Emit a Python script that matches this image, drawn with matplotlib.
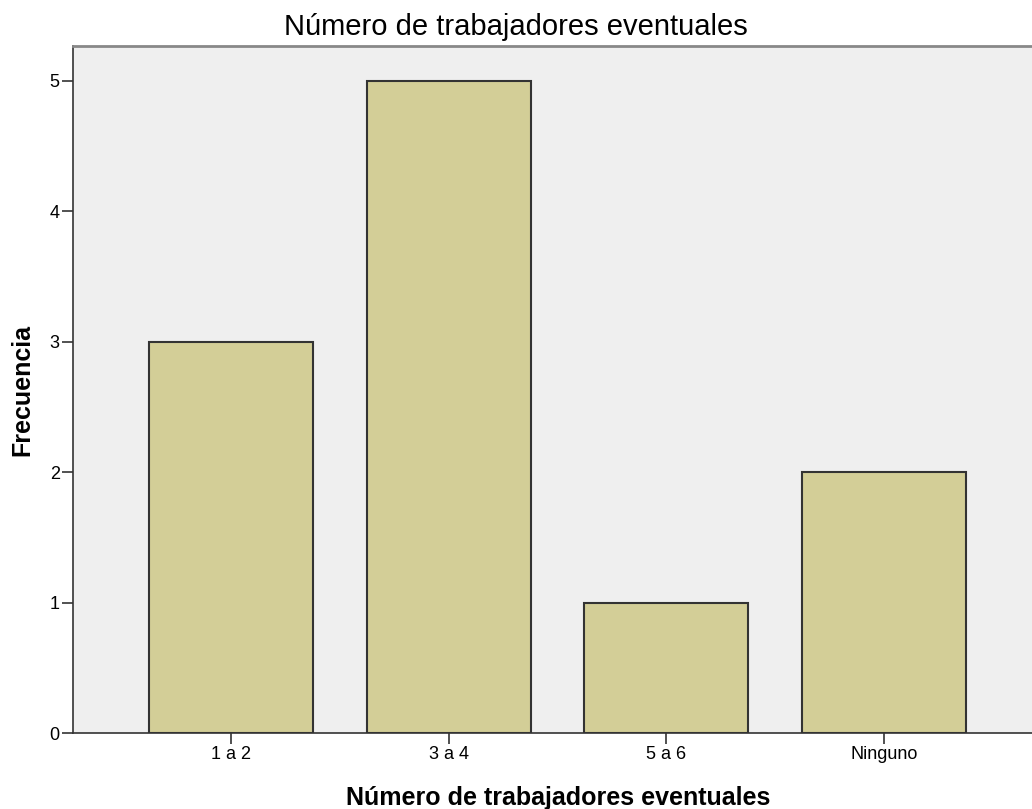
import numpy as np
import matplotlib
matplotlib.use("Agg")
import matplotlib.pyplot as plt

plt.rcParams['font.family'] = ['Liberation Sans', 'DejaVu Sans']

# datos
categorias = ["1 a 2", "3 a 4", "5 a 6", "Ninguno"]
frecuencias = [3, 5, 1, 2]
y_ticks = [0, 1, 2, 3, 4, 5]

W, H = 1032, 809
fig = plt.figure(figsize=(W / 100, H / 100), dpi=100)
# el marco del grafico sigue un poco mas alla del borde derecho
ax = fig.add_axes([73 / W, (H - 733) / H, (1043 - 73) / W, (733 - 46) / H])
ax.set_facecolor("#EFEFEF")

x = np.arange(len(categorias))
ax.bar(x, frecuencias, width=0.753, color="#D3CE97", edgecolor="#333333",
       linewidth=1.5, zorder=2)

ax.set_xlim(-0.726, 3.73)
ax.set_ylim(0, 5.268)
ax.set_xticks(x)
ax.set_xticklabels(categorias, fontsize=13)
ax.set_yticks(y_ticks)
ax.set_yticklabels([str(v) for v in y_ticks], fontsize=13)
ax.tick_params(axis="both", length=8, width=1.2, color="#333333", pad=1.5)

for side in ["left", "bottom"]:
    ax.spines[side].set_color("#333333")
    ax.spines[side].set_linewidth(1.2)
ax.spines["top"].set_color("#888888")
ax.spines["top"].set_linewidth(2)
ax.spines["right"].set_visible(False)

# titulo centrado en la figura
fig.text(0.5, 1 - 35 / H, "Número de trabajadores eventuales", fontsize=21,
         ha="center", va="baseline")

ax.set_xlabel("Número de trabajadores eventuales", fontsize=18,
              fontweight="bold", va="baseline")
ax.xaxis.set_label_coords(0.5, (733 - 805) / (733 - 46))
ax.set_ylabel("Frecuencia", fontsize=18, fontweight="bold", va="center")
ax.yaxis.set_label_coords((22 - 73) / (1043 - 73), 0.5)

fig.savefig("out.png", dpi=100)
